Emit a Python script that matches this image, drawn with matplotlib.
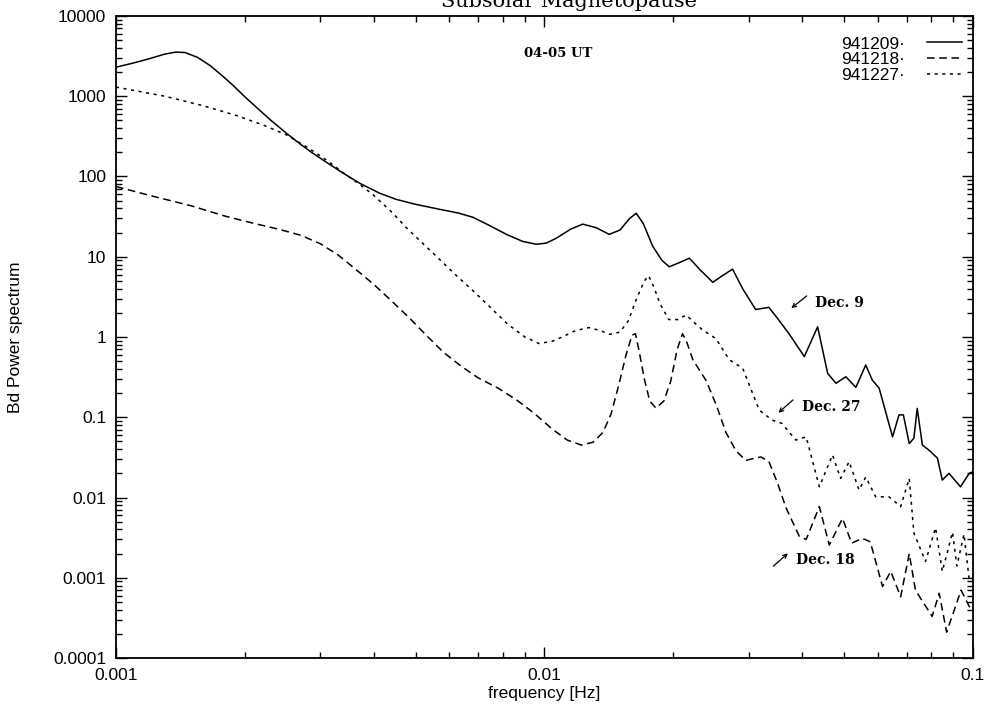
import matplotlib
matplotlib.use("Agg")
import matplotlib.pyplot as plt
from matplotlib.ticker import FixedLocator, LogLocator, NullFormatter

# Spectra, 04-05 UT, three passes
f_209 = [0.00100, 0.00110, 0.00120, 0.00130, 0.00138, 0.00145, 0.00155, 0.00166,
         0.00177, 0.00188, 0.00200, 0.00215, 0.00230, 0.00250, 0.00270, 0.00288,
         0.00310, 0.00339, 0.00371, 0.00412, 0.00450, 0.00500, 0.00569, 0.00630,
         0.00681, 0.00750, 0.00815, 0.00890, 0.00957, 0.01010, 0.01065, 0.01150,
         0.01228, 0.01320, 0.01416, 0.01500, 0.01580, 0.01637, 0.01700, 0.01789,
         0.01880, 0.01955, 0.02070, 0.02178, 0.02300, 0.0247, 0.0260, 0.02748,
         0.0290, 0.0311, 0.0334, 0.0350, 0.0372, 0.0404, 0.0434, 0.0458,
         0.0479, 0.0505, 0.0533, 0.0562, 0.0582, 0.0604, 0.0649, 0.0672,
         0.0688, 0.0710, 0.0728, 0.0741, 0.0762, 0.0789, 0.0826, 0.0848,
         0.0879, 0.0935, 0.0980, 0.1000]
p_209 = [2300, 2600, 2950, 3350, 3550, 3500, 3050, 2400,
         1800, 1350, 980, 690, 500, 345, 250, 195,
         150, 110, 82, 62, 52, 45, 39, 35,
         31, 24, 19, 15.5, 14.3, 14.8, 17, 22,
         25.5, 23, 19, 21.5, 30, 34.8, 26, 13.5,
         9, 7.5, 8.5, 9.6, 7, 4.8, 5.8, 7.0,
         4, 2.2, 2.34, 1.7, 1.1, 0.57, 1.34, 0.352,
         0.265, 0.32, 0.236, 0.448, 0.291, 0.23, 0.057, 0.107,
         0.107, 0.047, 0.055, 0.129, 0.045, 0.039, 0.031, 0.0165,
         0.020, 0.0136, 0.020, 0.021]

f_218 = [0.00100, 0.00120, 0.00150, 0.00180, 0.00210, 0.00240, 0.00270, 0.00300,
         0.00330, 0.00360, 0.00400, 0.00440, 0.00480, 0.00530, 0.00580, 0.00640,
         0.00700, 0.00780, 0.00860, 0.00950, 0.01040, 0.01130, 0.01220, 0.01300,
         0.01370, 0.01430, 0.01490, 0.01550, 0.01600, 0.01630, 0.01660, 0.01710,
         0.01760, 0.01820, 0.01900, 0.01970, 0.02040, 0.02100, 0.02150, 0.02220,
         0.02380, 0.02520, 0.02650, 0.02800, 0.02950, 0.03100, 0.03200, 0.03340,
         0.0350, 0.0366, 0.0393, 0.0408, 0.0438, 0.0462, 0.0496, 0.0521,
         0.0552, 0.0576, 0.0615, 0.0643, 0.0678, 0.0710, 0.0734, 0.0803,
         0.0834, 0.0868, 0.0938, 0.0980, 0.1000]
p_218 = [75, 58, 43, 32, 26, 22, 18.5, 14.5,
         10.5, 7.2, 4.5, 2.8, 1.8, 1.05, 0.65, 0.43,
         0.31, 0.23, 0.165, 0.11, 0.072, 0.052, 0.045, 0.049,
         0.065, 0.11, 0.25, 0.6, 1.05, 1.1, 0.7, 0.3,
         0.16, 0.13, 0.16, 0.28, 0.7, 1.1, 0.85, 0.52,
         0.29, 0.14, 0.065, 0.038, 0.029, 0.031, 0.032, 0.028,
         0.015, 0.0075, 0.0033, 0.003, 0.0077, 0.00256, 0.0055, 0.0027,
         0.0031, 0.0028, 0.00078, 0.0012, 0.00058, 0.0020, 0.0007, 0.00033,
         0.00064, 0.00021, 0.0007, 0.00044, 0.0004]

f_227 = [0.00100, 0.00130, 0.00160, 0.00190, 0.00220, 0.00250, 0.00280, 0.00310,
         0.00340, 0.00370, 0.00400, 0.00440, 0.00480, 0.00530, 0.00580, 0.00630,
         0.00680, 0.00750, 0.00820, 0.00900, 0.00970, 0.01040, 0.01100, 0.01180,
         0.01270, 0.01350, 0.01420, 0.01500, 0.01570, 0.01640, 0.01710, 0.01750,
         0.01800, 0.01860, 0.01950, 0.02050, 0.02140, 0.02240, 0.02340, 0.02510,
         0.0270, 0.0290, 0.0317, 0.0340, 0.0358, 0.0386, 0.0408, 0.0438,
         0.0470, 0.0491, 0.0514, 0.0542, 0.0562, 0.0593, 0.0637, 0.0678,
         0.0710, 0.0728, 0.0775, 0.0818, 0.0848, 0.0896, 0.0917, 0.0953,
         0.0980, 0.1000]
p_227 = [1300, 1000, 760, 580, 440, 330, 230, 160,
         110, 80, 58, 36, 22, 13.3, 8.4, 5.5,
         3.8, 2.3, 1.45, 1.0, 0.83, 0.88, 1.0, 1.2,
         1.31, 1.2, 1.08, 1.15, 1.6, 3.0, 5.0, 5.8,
         4.2, 2.6, 1.65, 1.65, 1.88, 1.5, 1.22, 0.96,
         0.52, 0.41, 0.123, 0.092, 0.084, 0.052, 0.057, 0.0136,
         0.034, 0.0173, 0.028, 0.0124, 0.018, 0.0102, 0.0102, 0.0077,
         0.0173, 0.0036, 0.0016, 0.0042, 0.0012, 0.0037, 0.0014, 0.0035,
         0.00094, 0.001]

y_ticks = [1e-4, 1e-3, 1e-2, 1e-1, 1, 10, 100, 1000, 10000]
y_labels = ["0.0001", "0.001", "0.01", "0.1", "1", "10", "100", "1000", "10000"]
x_ticks = [0.001, 0.01, 0.1]
x_labels = ["0.001", "0.01", "0.1"]

sans = "Liberation Sans"
serif = "DejaVu Serif"

fig = plt.figure(figsize=(9.89, 7.10), dpi=100)
ax = fig.add_axes([0.1173, 0.0732, 0.8665, 0.9043])

lw = 1.1
ax.plot(f_209, p_209, color="black", lw=lw, ls="-", label="941209\u00b7")
ax.plot(f_218, p_218, color="black", lw=lw, ls=(0, (5, 3)), label="941218\u00b7")
ax.plot(f_227, p_227, color="black", lw=lw, ls=(0, (2, 3)), label="941227\u00b7")

ax.set_xscale("log")
ax.set_yscale("log")
ax.set_xlim(1e-3, 1e-1)
ax.set_ylim(1e-4, 1e4)

ax.xaxis.set_major_locator(FixedLocator(x_ticks))
ax.set_xticklabels(x_labels)
ax.yaxis.set_major_locator(FixedLocator(y_ticks))
ax.set_yticklabels(y_labels)
for axis in (ax.xaxis, ax.yaxis):
    axis.set_minor_locator(LogLocator(base=10, subs=range(2, 10), numticks=20))
    axis.set_minor_formatter(NullFormatter())

ax.tick_params(which="both", direction="in", top=True, right=True, width=1.0)
ax.tick_params(which="major", length=8, labelsize=12.5, pad=7)
ax.tick_params(which="minor", length=4)
for lab in ax.get_xticklabels() + ax.get_yticklabels():
    lab.set_fontfamily(sans)
for sp in ax.spines.values():
    sp.set_linewidth(1.3)

ax.set_xlabel("frequency [Hz]", fontsize=12.5, family=sans, labelpad=2)
ax.set_ylabel("Bd Power spectrum", fontsize=12.5, family=sans, labelpad=22)

# title sits at the very top edge of the page
fig.text(0.575, 1 - 7 / 710, "Subsolar Magnetopause", ha="center", va="baseline",
         fontsize=15, family=serif)

ax.text(0.516, 0.942, "04-05 UT", transform=ax.transAxes, ha="center", va="center",
        fontsize=9.5, family=serif, fontweight="bold")

notes = [("Dec. 9", (0.816, 0.553), (0.806, 0.564), (0.788, 0.545)),
         ("Dec. 27", (0.800, 0.391), (0.790, 0.402), (0.773, 0.382)),
         ("Dec. 18", (0.794, 0.153), (0.767, 0.143), (0.784, 0.163))]
for txt, pos, tail, head in notes:
    ax.text(pos[0], pos[1], txt, transform=ax.transAxes, ha="left", va="center",
            fontsize=10, family=serif, fontweight="bold")
    ax.annotate("", xy=head, xytext=tail, xycoords="axes fraction",
                textcoords="axes fraction",
                arrowprops=dict(arrowstyle="->", lw=0.9, color="black",
                                mutation_scale=7, shrinkA=0, shrinkB=0))

leg = ax.legend(loc="upper right", bbox_to_anchor=(0.995, 0.979), frameon=False,
                markerfirst=False, handlelength=2.0, handletextpad=1.3,
                labelspacing=0.045, borderaxespad=0,
                prop={"family": sans, "size": 12.5})

fig.savefig("out.png", dpi=100)
plt.close(fig)
